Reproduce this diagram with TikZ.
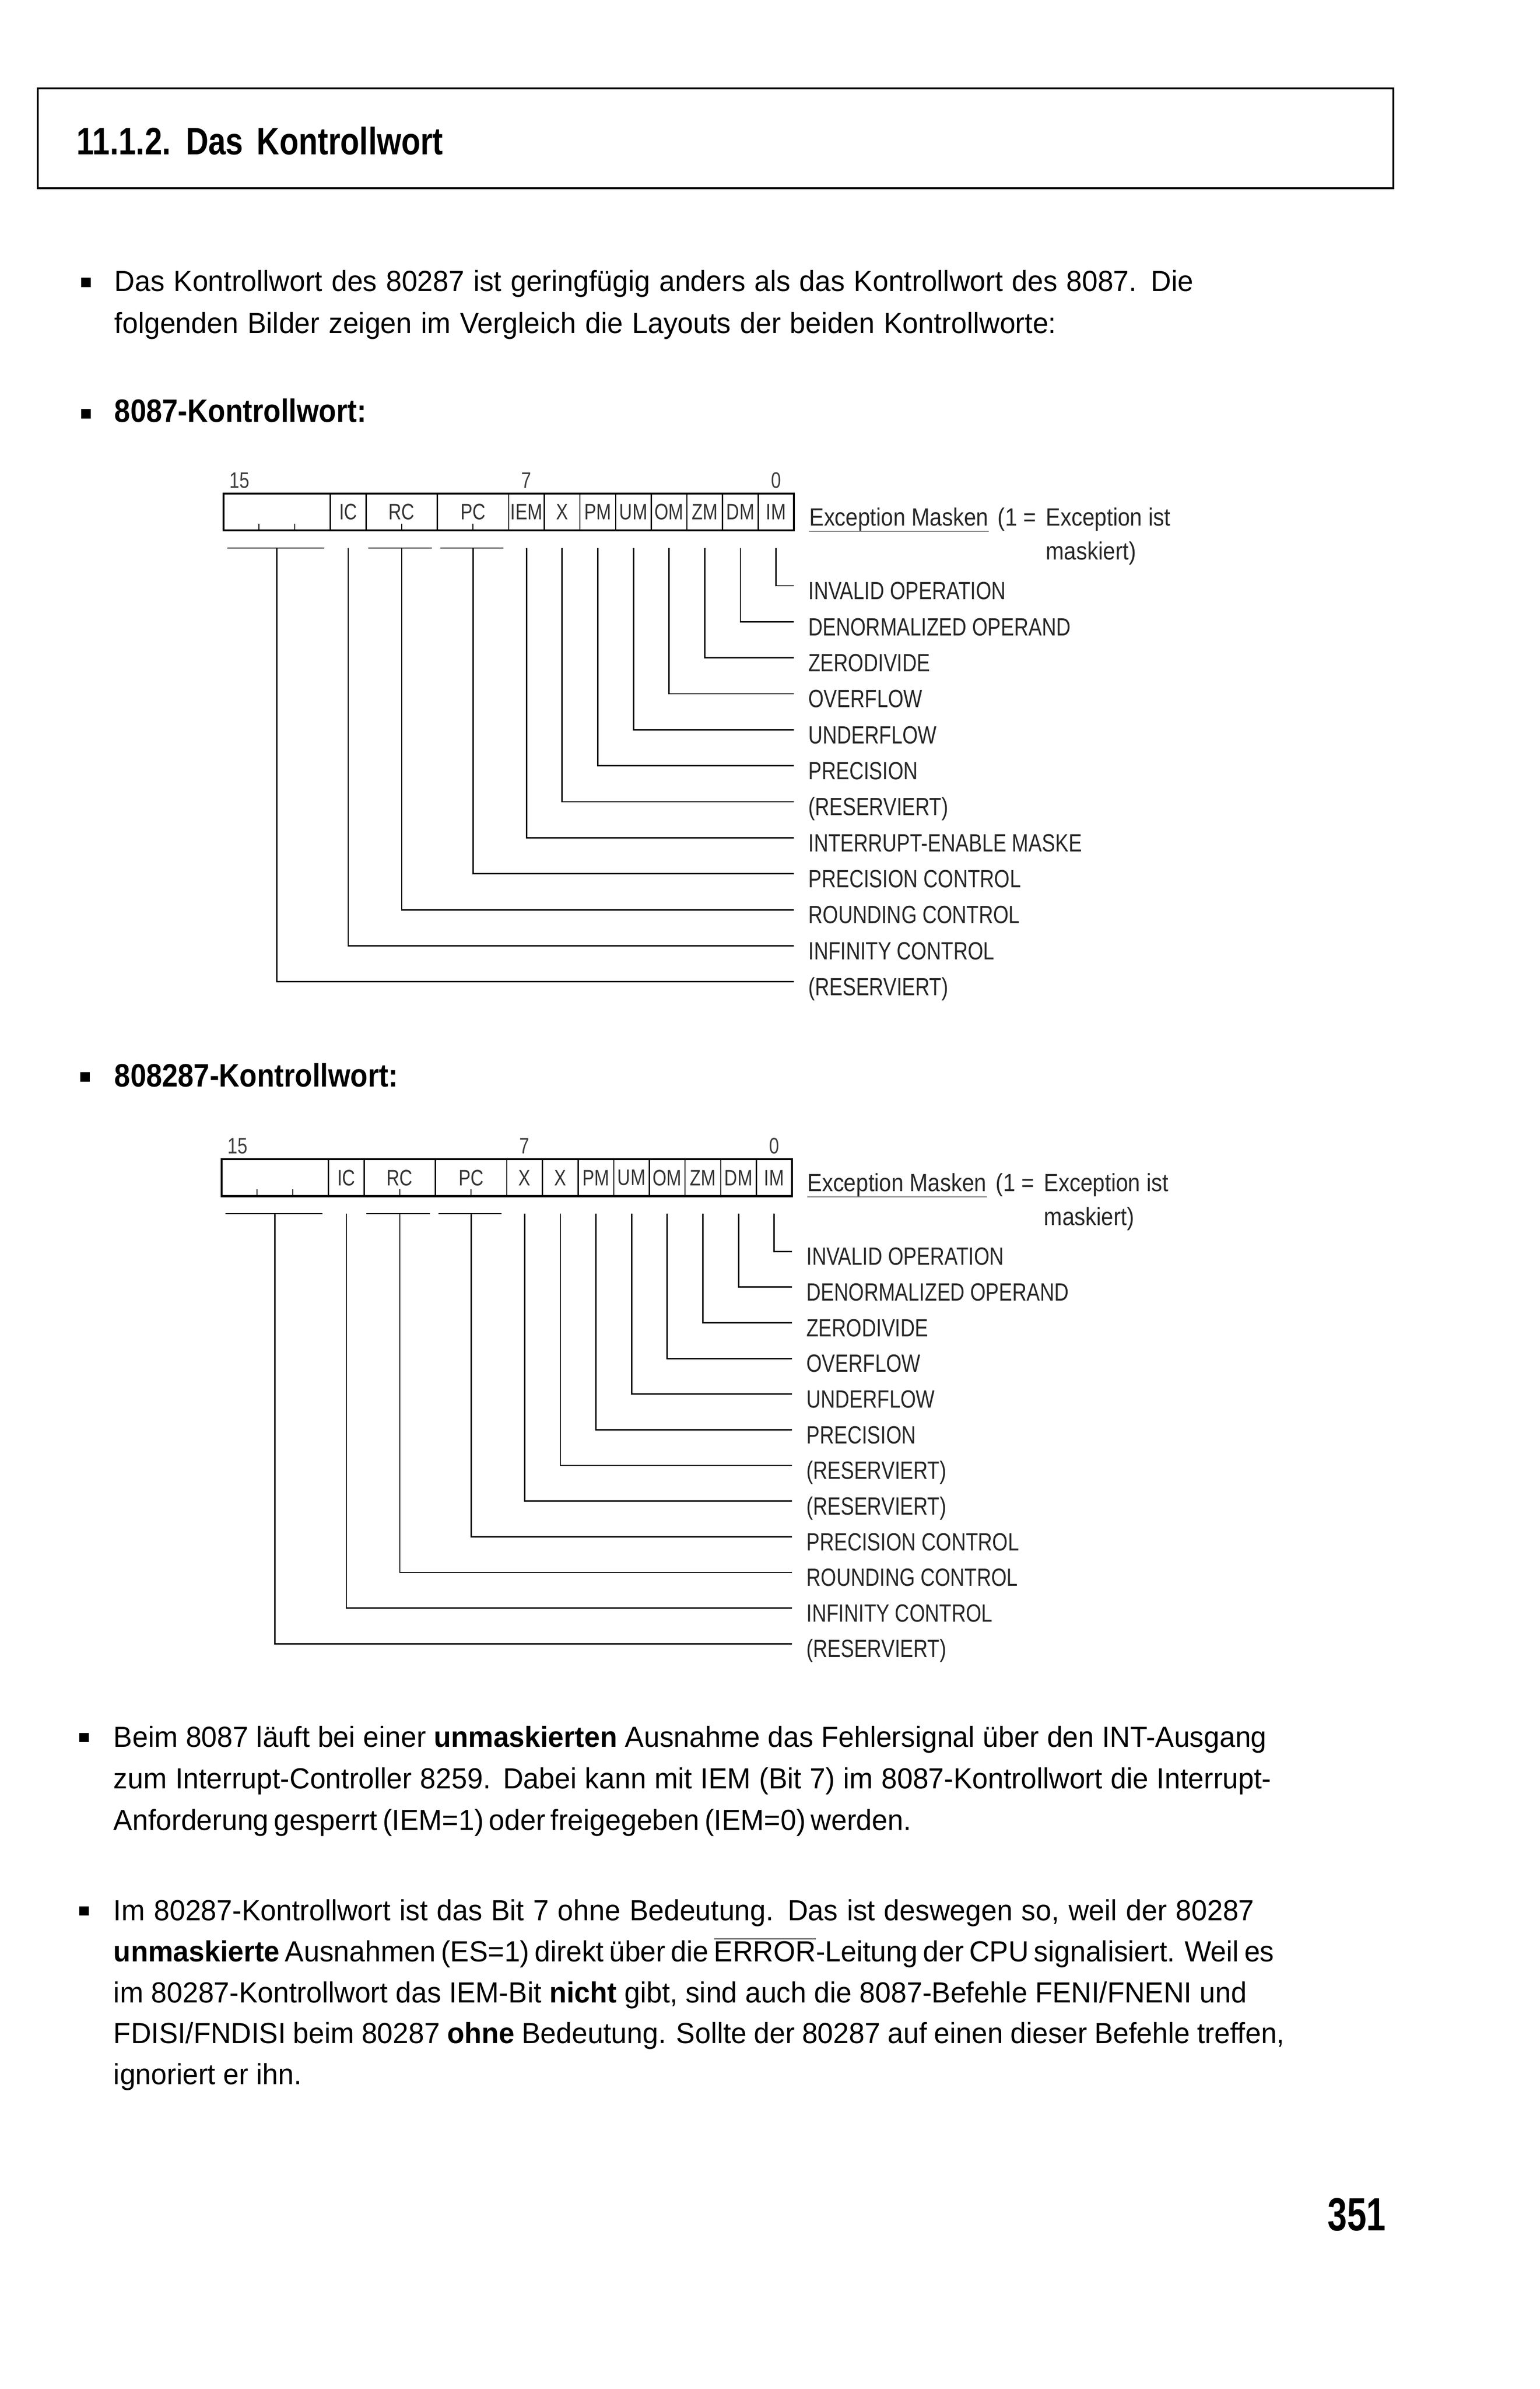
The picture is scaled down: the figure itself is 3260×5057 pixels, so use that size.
\documentclass[tikz,border=0pt]{standalone}
\usepackage{fontspec}
\setmainfont{Liberation Sans}[FakeStretch=0.97]
\newfontfamily\diagfont{Liberation Sans}[FakeStretch=0.8]
\newfontfamily\notefont{Liberation Sans}[FakeStretch=0.88]
\newfontfamily\headfont{Liberation Sans}[FakeStretch=0.88]
\newfontfamily\titlefont{Liberation Sans}[FakeStretch=0.82]
\newfontfamily\pagenofont{Liberation Sans}[FakeStretch=0.75]
\tikzset{
  frame/.style={line width=1.15pt},
  regbox/.style={line width=1.2pt},
  regsep/.style={line width=0.75pt},
  conn/.style={line width=0.8pt},
  tickln/.style={line width=0.6pt},
  uline/.style={line width=0.4pt, black!55},
  body/.style={anchor=base west, inner sep=0pt, font=\fontsize{17.5pt}{21pt}\selectfont},
  bodybold/.style={anchor=base west, inner sep=0pt, font=\headfont\fontsize{19.5pt}{23pt}\selectfont\bfseries},
  rowlbl/.style={anchor=base west, inner sep=0pt, text=black!85, font=\diagfont\fontsize{15pt}{18pt}\selectfont},
  notelbl/.style={anchor=base west, inner sep=0pt, text=black!85, font=\notefont\fontsize{15pt}{18pt}\selectfont},
  cellt/.style={anchor=center, inner sep=0pt, text=black!80, font=\diagfont\fontsize{13.5pt}{16pt}\selectfont},
  bitno/.style={anchor=base, inner sep=0pt, text=black!75, font=\diagfont\fontsize{13.5pt}{16pt}\selectfont},
  bulletsq/.style={fill=black, minimum size=0.2cm, inner sep=0pt, anchor=center},
}
% #1 prefix, #2 shift, #3 bit-7 label, #4 row-7 text, #5 row pitch
\newcommand\ctrlword[5]{%
\begin{scope}[shift={#2}]
  \node[bitno] (#1n15) at (34,-12) {15};
  \node[bitno] (#1n7) at (641.75,-12) {7};
  \node[bitno] (#1n0) at (1170.25,-12) {0};
  \foreach \xs in {226.5,302,453,604,679.5,755,830.5,906,981.5,1057,1132.5}
    {\draw[regsep] (\xs,0) -- (\xs,78);}
  \foreach \xs in {75.5,151,377.5,528.5}
    {\draw[tickln] (\xs,78) -- (\xs,63);}
  \draw[regbox] (0,0) rectangle (1208,78);
  \node[cellt] (#1c12) at (264.25,39) {IC};
  \node[cellt] (#1cRC) at (377.5,39) {RC};
  \node[cellt] (#1cPC) at (528.5,39) {PC};
  \node[cellt] (#1c7) at (641.75,39) {#3};
  \node[cellt] (#1c6) at (717.25,39) {X};
  \node[cellt] (#1c5) at (792.75,39) {PM};
  \node[cellt] (#1c4) at (868.25,39) {UM};
  \node[cellt] (#1c3) at (943.75,39) {OM};
  \node[cellt] (#1c2) at (1019.25,39) {ZM};
  \node[cellt] (#1c1) at (1094.75,39) {DM};
  \node[cellt] (#1c0) at (1170.25,39) {IM};
  % group bars
  \coordinate (#1ga) at (8,115);   \coordinate (#1gb) at (214,115);
  \coordinate (#1gc) at (307,115); \coordinate (#1gd) at (441,115);
  \coordinate (#1ge) at (459,115); \coordinate (#1gf) at (593,115);
  \draw[conn] (#1ga) -- (#1gb);
  \draw[conn] (#1gc) -- (#1gd);
  \draw[conn] (#1ge) -- (#1gf);
  % leader lines and row labels
  \foreach \k/\cx/\txt in {0/1170.25/INVALID OPERATION,
      1/1094.75/DENORMALIZED OPERAND, 2/1019.25/ZERODIVIDE,
      3/943.75/OVERFLOW, 4/868.25/UNDERFLOW, 5/792.75/PRECISION,
      6/717.25/(RESERVIERT), 7/641.75/#4, 8/528.5/PRECISION CONTROL,
      9/377.5/ROUNDING CONTROL, 10/264.25/INFINITY CONTROL,
      11/113.25/(RESERVIERT)}{
    \coordinate (#1t\k) at (\cx,115);
    \coordinate (#1e\k) at (1208,{195+#5*\k});
    \draw[conn] (#1t\k) |- (#1e\k);
    \node[rowlbl] (#1l\k) at (1238,{224+#5*\k}) {\txt};
  }
  % exception mask note
  \node[notelbl] (#1x1) at (1240,68) {Exception Masken};
  \draw[uline] (#1x1.south west) -- (#1x1.south east);
  \node[notelbl] (#1x2) at (1639,68) {(1 =};
  \node[notelbl] (#1x3) at (1741,68) {Exception ist};
  \node[notelbl] (#1x4) at (1741,140) {maskiert)};
\end{scope}}

\begin{document}
\begin{tikzpicture}[x=0.01cm, y=-0.01cm]
\useasboundingbox (0,0) rectangle (3260,5057);
\fill[white] (0,0) rectangle (3260,5057);

% title box
\node[draw, frame, anchor=north west, minimum width=28.69cm, minimum height=2.11cm, inner sep=0pt] (tbox) at (78,185) {};
\node[anchor=base west, inner sep=0pt, font=\titlefont\bfseries\fontsize{23pt}{27pt}\selectfont] (title) at (162,327) {11.1.2.\hspace{9pt}Das\hspace{3pt} Kontrollwort};

% paragraph 1
\node[bulletsq] (bu1) at (182,598) {};
\node[body] (p1a) at (242,616) {\makebox[22.83cm][s]{Das Kontrollwort des 80287 ist geringfügig anders als das Kontrollwort des 8087. Die}};
\node[body] (p1b) at (242,705) {\makebox[19.93cm][s]{folgenden Bilder zeigen im Vergleich die Layouts der beiden Kontrollworte:}};

% heading 1
\node[bulletsq] (bu2) at (182,876) {};
\node[bodybold] (h1) at (242,894) {8087-Kontrollwort:};

\ctrlword{a}{(473,1045)}{IEM}{INTERRUPT-ENABLE MASKE}{76.2}

% heading 2
\node[bulletsq] (bu3) at (180,2280) {};
\node[bodybold] (h2) at (242,2300) {808287-Kontrollwort:};

\ctrlword{b}{(469,2454)}{X}{(RESERVIERT)}{75.5}

% paragraph 3
\node[bulletsq] (bu4) at (178,3678) {};
\node[body] (p3a) at (240,3698) {\makebox[24.40cm][s]{Beim 8087 läuft bei einer \textbf{unmaskierten} Ausnahme das Fehlersignal über den INT-Ausgang}};
\node[body] (p3b) at (240,3786) {\makebox[24.50cm][s]{zum Interrupt-Controller 8259. Dabei kann mit IEM (Bit 7) im 8087-Kontrollwort die Interrupt-}};
\node[body] (p3c) at (240,3874) {\makebox[16.78cm][s]{Anforderung gesperrt (IEM=1) oder freigegeben (IEM=0) werden.}};

% paragraph 4
\node[bulletsq] (bu5) at (178,4045) {};
\node[body] (p4a) at (240,4065) {\makebox[24.14cm][s]{Im 80287-Kontrollwort ist das Bit 7 ohne Bedeutung. Das ist deswegen so, weil der 80287}};
\node[body] (p4b) at (240,4152) {\makebox[24.56cm][s]{\textbf{unmaskierte} Ausnahmen (ES=1) direkt über die $\overline{\hbox{ERROR}}$-Leitung der CPU signalisiert. Weil es}};
\node[body] (p4c) at (240,4239) {\makebox[23.98cm][s]{im 80287-Kontrollwort das IEM-Bit \textbf{nicht} gibt, sind auch die 8087-Befehle FENI/FNENI und}};
\node[body] (p4d) at (240,4325) {\makebox[24.78cm][s]{FDISI/FNDISI beim 80287 \textbf{ohne} Bedeutung. Sollte der 80287 auf einen dieser Befehle treffen,}};
\node[body] (p4e) at (240,4412) {ignoriert er ihn.};

% page number
\node[anchor=base east, inner sep=0pt, font=\pagenofont\bfseries\fontsize{28pt}{32pt}\selectfont] (pgno) at (2935,4722) {351};
\end{tikzpicture}
\end{document}
